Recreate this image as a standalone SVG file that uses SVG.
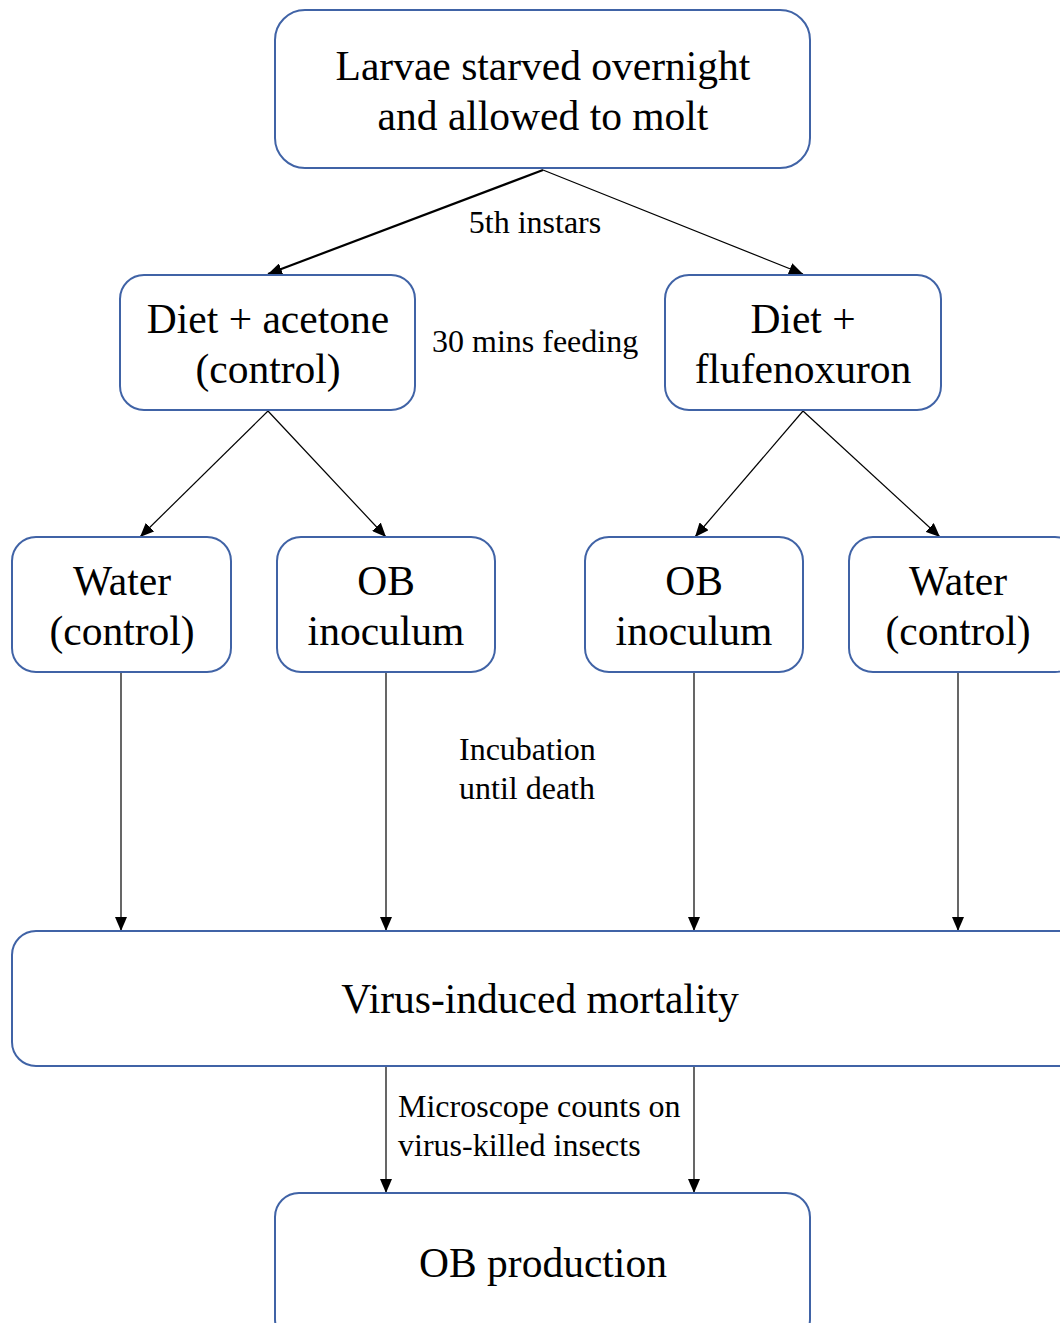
<svg xmlns="http://www.w3.org/2000/svg" width="1060" height="1323" viewBox="0 0 1060 1323">
<style>
.node{fill:#fff;stroke:#4063a6;stroke-width:2}
.t{font-family:"Liberation Serif","Times New Roman",serif;font-size:41.5px;fill:#000;text-anchor:middle}
.l{font-family:"Liberation Serif","Times New Roman",serif;font-size:32px;fill:#000}
.c{stroke:#000;stroke-width:1.2;fill:none;marker-end:url(#ah)}
</style>
<defs>
<marker id="ah" markerUnits="userSpaceOnUse" markerWidth="14" markerHeight="12" viewBox="0 0 14 12" refX="14" refY="6" orient="auto">
<path d="M0,0 L14,6 L0,12 Z" fill="#000"/>
</marker>
</defs>
<rect width="1060" height="1323" fill="#fff"/>
<g id="connectors">
<line class="c" x1="543" y1="170" x2="268" y2="274" style="stroke-width:2.2"/>
<line class="c" x1="543" y1="170" x2="803" y2="274"/>
<line class="c" x1="268" y1="411" x2="140" y2="537"/>
<line class="c" x1="268" y1="411" x2="386" y2="537"/>
<line class="c" x1="803" y1="411" x2="695" y2="537"/>
<line class="c" x1="803" y1="411" x2="940" y2="537"/>
<line class="c" x1="121" y1="673" x2="121" y2="931"/>
<line class="c" x1="386" y1="673" x2="386" y2="931"/>
<line class="c" x1="694" y1="673" x2="694" y2="931"/>
<line class="c" x1="958" y1="673" x2="958" y2="931"/>
<line class="c" x1="386" y1="1067" x2="386" y2="1193"/>
<line class="c" x1="694" y1="1067" x2="694" y2="1193"/>
</g>
<g id="n-larvae"><rect class="node" x="275" y="10" width="535" height="158" rx="30"/>
<text class="t" x="543" y="80">Larvae starved overnight</text><text class="t" x="543" y="130">and allowed to molt</text></g>
<g id="n-acetone"><rect class="node" x="120" y="275" width="295" height="135" rx="24"/>
<text class="t" x="268" y="333">Diet + acetone</text><text class="t" x="268" y="383">(control)</text></g>
<g id="n-fluf"><rect class="node" x="665" y="275" width="276" height="135" rx="24"/>
<text class="t" x="803" y="333">Diet +</text><text class="t" x="803" y="383">flufenoxuron</text></g>
<g id="n-water1"><rect class="node" x="12" y="537" width="219" height="135" rx="24"/>
<text class="t" x="122" y="595">Water</text><text class="t" x="122" y="645">(control)</text></g>
<g id="n-ob1"><rect class="node" x="277" y="537" width="218" height="135" rx="24"/>
<text class="t" x="386" y="595">OB</text><text class="t" x="386" y="645">inoculum</text></g>
<g id="n-ob2"><rect class="node" x="585" y="537" width="218" height="135" rx="24"/>
<text class="t" x="694" y="595">OB</text><text class="t" x="694" y="645">inoculum</text></g>
<g id="n-water2"><rect class="node" x="849" y="537" width="230" height="135" rx="24"/>
<text class="t" x="958" y="595">Water</text><text class="t" x="958" y="645">(control)</text></g>
<g id="n-mortality"><rect class="node" x="12" y="931" width="1070" height="135" rx="24"/>
<text class="t" x="540" y="1013">Virus-induced mortality</text></g>
<g id="n-obprod"><rect class="node" x="275" y="1193" width="535" height="150" rx="24"/>
<text class="t" x="543" y="1277">OB production</text></g>
<g id="labels">
<text class="l" x="535" y="233" text-anchor="middle">5th instars</text>
<text class="l" x="432" y="352">30 mins feeding</text>
<text class="l" x="459" y="760">Incubation</text>
<text class="l" x="459" y="799">until death</text>
<text class="l" x="398" y="1117">Microscope counts on</text>
<text class="l" x="398" y="1156">virus-killed insects</text>
</g>
</svg>
